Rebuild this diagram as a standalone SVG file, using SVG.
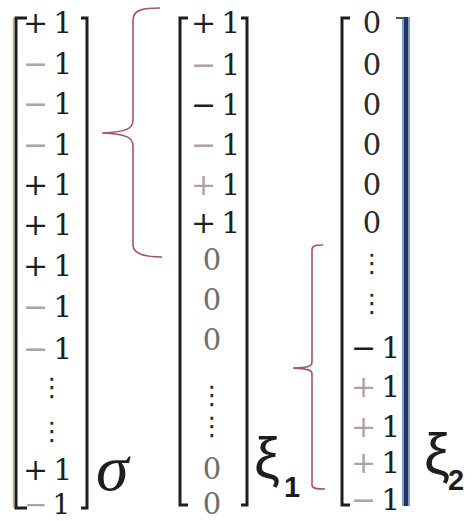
<svg xmlns="http://www.w3.org/2000/svg" width="473" height="521" viewBox="0 0 473 521">
<style>
.n{font-family:"DejaVu Serif","Liberation Serif",serif;font-size:30px;fill:#1e1e1e;letter-spacing:5px}
.z{font-family:"DejaVu Serif","Liberation Serif",serif;font-size:29px;fill:#2a2a2a;text-anchor:middle}
.zg{fill:#6e6e6e}
.d{font-family:"DejaVu Sans",sans-serif;font-size:26px;fill:#2a2a2a;text-anchor:middle}
.lt{fill:#b0a0aa}
.br{fill:none;stroke:#1e1e1e;stroke-width:3}
.brace{fill:none;stroke:#a85468;stroke-width:1.6}
.xi{font-family:"Liberation Sans","DejaVu Sans",sans-serif;font-size:58px;fill:#1e1e1e}
.sub{font-family:"Liberation Sans","DejaVu Sans",sans-serif;font-size:29px;font-weight:bold;fill:#1e1e1e}
</style>
<rect width="473" height="521" fill="#ffffff"/>

<g id="sigma">
  <line x1="13.5" y1="18" x2="13.5" y2="508" stroke="#d9b36e" stroke-width="1.5"/>
  <path class="br" d="M27,18 H16 V508 H27"/>
  <path class="br" d="M81,18 H87 V508 H81"/>
  <text class="n" x="23" y="33">+1</text>
  <text class="n" x="23" y="74"><tspan class="lt">−</tspan>1</text>
  <text class="n" x="23" y="114"><tspan class="lt">−</tspan>1</text>
  <text class="n" x="23" y="155"><tspan class="lt">−</tspan>1</text>
  <text class="n" x="23" y="195">+1</text>
  <text class="n" x="23" y="235">+1</text>
  <text class="n" x="23" y="276">+1</text>
  <text class="n" x="23" y="317"><tspan class="lt">−</tspan>1</text>
  <text class="n" x="23" y="359"><tspan class="lt">−</tspan>1</text>
  <text class="d" x="52" y="396">⋮</text>
  <text class="d" x="52" y="440">⋮</text>
  <text class="n" x="23" y="480">+1</text>
  <text class="n" x="24" y="514" style="font-size:28px"><tspan class="lt">−</tspan>1</text>
  <text x="96" y="490" font-family="Liberation Serif,serif" font-style="italic" font-size="66" fill="#1e1e1e">σ</text>
</g>

<g id="xi1">
  <path class="br" d="M188,18 H180 V505 H188"/>
  <path class="br" d="M241,18 H247 V505 H241" stroke="#2a3a4c"/>
  <text class="n" x="191" y="33">+1</text>
  <text class="n" x="191" y="75"><tspan class="lt">−</tspan>1</text>
  <text class="n" x="191" y="115">−1</text>
  <text class="n" x="191" y="155"><tspan class="lt">−</tspan>1</text>
  <text class="n" x="191" y="195"><tspan class="lt">+</tspan>1</text>
  <text class="n" x="191" y="233">+1</text>
  <text class="z zg" x="212" y="270">0</text>
  <text class="z zg" x="212" y="310">0</text>
  <text class="z zg" x="212" y="350">0</text>
  <text class="d" x="212" y="404">⋮</text>
  <text class="d" x="212" y="435">⋮</text>
  <text class="z zg" x="212" y="479">0</text>
  <text class="z zg" x="212" y="514">0</text>
  <text class="xi" x="254" y="478">ξ</text>
  <text class="sub" x="284" y="497">1</text>
</g>

<g id="xi2">
  <path class="br" d="M350,18 H342 V505 H350" stroke="#6a6a6a" stroke-width="2.5"/>
  <line x1="406" y1="17" x2="406" y2="506" stroke="#7f9fd0" stroke-width="8"/>
  <line x1="406" y1="17" x2="406" y2="506" stroke="#1f3560" stroke-width="4"/>
  <path d="M396,18 H404" stroke="#555" stroke-width="2" fill="none"/>
  <text class="z" x="372" y="33">0</text>
  <text class="z" x="372" y="75">0</text>
  <text class="z" x="372" y="115">0</text>
  <text class="z" x="372" y="155">0</text>
  <text class="z" x="372" y="195">0</text>
  <text class="z" x="372" y="233">0</text>
  <text class="d" x="372" y="272">⋮</text>
  <text class="d" x="372" y="312">⋮</text>
  <text class="n" x="351" y="358">−1</text>
  <text class="n" x="351" y="397"><tspan class="lt">+</tspan>1</text>
  <text class="n" x="351" y="437"><tspan class="lt">+</tspan>1</text>
  <text class="n" x="351" y="473"><tspan class="lt">+</tspan>1</text>
  <text class="n" x="351" y="510"><tspan class="lt">−</tspan>1</text>
  <text class="xi" x="424" y="474">ξ</text>
  <text class="sub" x="448" y="490">2</text>
</g>

<g id="braces">
  <path class="brace" d="M160,8 C145,8 133,9 133,20 L133,120 C133,128 128,132 102,133 C128,134 133,138 133,146 L133,245 C133,254 145,257 162,257"/>
  <path class="brace" d="M323,245 C315,245 312,246 312,250 L312,362 C312,366 308,368 293,368 C308,369 312,370 312,374 L312,485 C312,488 315,489 325,489"/>
</g>
</svg>
